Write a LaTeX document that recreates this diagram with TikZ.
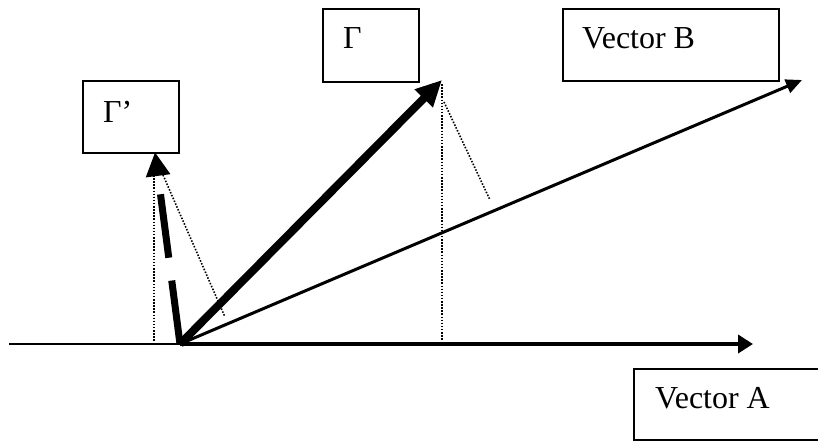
\documentclass[tikz,border=0pt]{standalone}
\usepackage{fontspec}
\setmainfont{Liberation Serif}
\usetikzlibrary{arrows.meta}

\begin{document}
\begin{tikzpicture}[
  x=1pt, y=-1pt,
  font=\fontsize{32}{38}\selectfont,
  box/.style={draw, line width=1.5pt, inner sep=0pt, anchor=north west},
  lbl/.style={anchor=base west, inner sep=0pt},
  proj/.style={line width=1.6pt, dash pattern=on 1.5pt off 1.6pt},
  vecA/.style={line width=4pt, -{Triangle[length=15pt, width=18pt]}},
  vecB/.style={line width=3pt, -{Triangle[length=16pt, width=14pt]}},
  vecG/.style={line width=8pt, -{Triangle[length=26pt, width=24pt]}},
  vecGp/.style={line width=7pt, dash pattern=on 64pt off 23pt, -{Triangle[length=24pt, width=23pt]}},
]
\useasboundingbox (0,0) rectangle (818,440);
\clip (0,0) rectangle (818,440);

% --- label boxes ---
\node[box, minimum width=96pt,  minimum height=72pt] (gpBox) at (82,80)  {};
\node[box, minimum width=96pt,  minimum height=73pt] (gBox)  at (322,8)  {};
\node[box, minimum width=216pt, minimum height=72pt] (bBox)  at (562,8)  {};
\node[box, minimum width=200pt, minimum height=71pt] (aBox)  at (633,368) {};

\node[lbl] (gpLbl) at (103,122) {Γ’};
\node[lbl] (gLbl)  at (343,48)  {Γ};
\node[lbl] (bLbl)  at (582,48)  {Vector B};
\node[lbl] (aLbl)  at (655,408) {Vector A};

% --- vector end points ---
\coordinate (axStart) at (9,344);
\coordinate (orig)    at (180,344);
\coordinate (aTip)    at (753,344);
\coordinate (bTip)    at (802,80);
\coordinate (gTip)    at (442,80);
\coordinate (gpTip)   at (155,152);

% --- projection ends (dotted) ---
\coordinate (gpTop)   at (154,175);
\coordinate (gpDown)  at (154,341);
\coordinate (gpSl)    at (163,175);
\coordinate (gpFoot)  at (225,317);
\coordinate (gTop)    at (442,84);
\coordinate (gDown)   at (442,341);
\coordinate (gSl)     at (444,102);
\coordinate (gFoot)   at (490,200);

% --- vectors ---
\draw[line width=2pt] (axStart) -- (orig);
\draw[vecA] (orig) -- (aTip);
\draw[vecB] (orig) -- (bTip);
\draw[vecG] (orig) -- (gTip);
\draw[vecGp] (orig) -- (gpTip);

% --- projections ---
\draw[proj] (gpTop) -- (gpDown);
\draw[proj] (gpSl) -- (gpFoot);
\draw[proj] (gTop) -- (gDown);
\draw[proj] (gSl) -- (gFoot);

\end{tikzpicture}
\end{document}
